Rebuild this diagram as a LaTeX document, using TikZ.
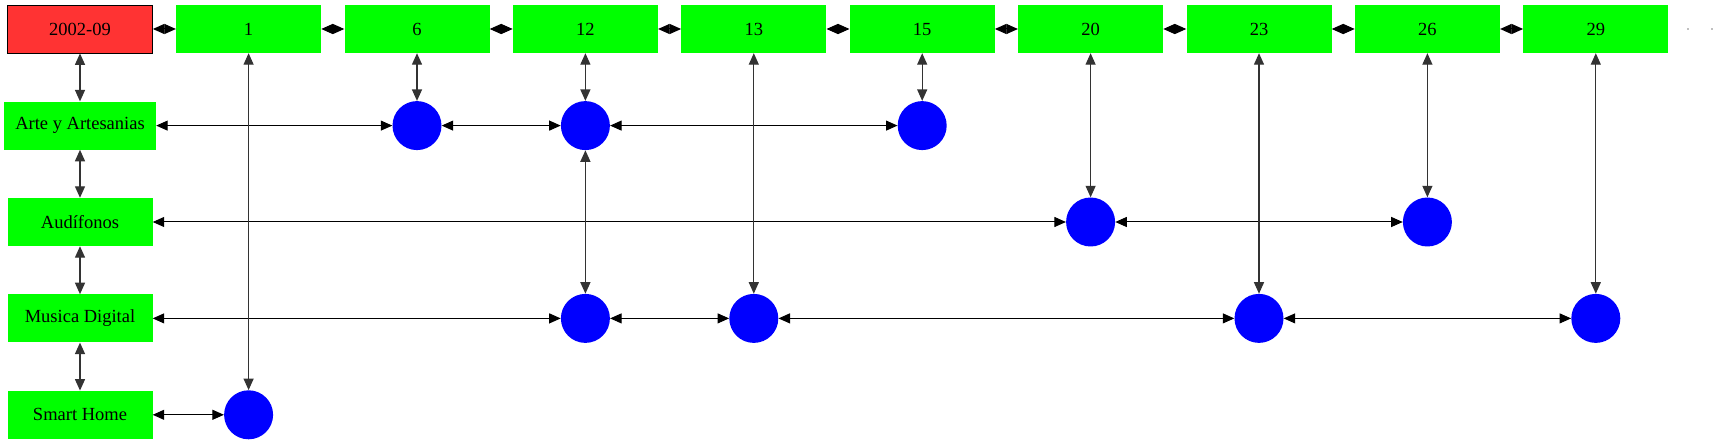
\documentclass[tikz,border=0pt]{standalone}
\usepackage{fontspec}
\setmainfont{Liberation Serif}
\usetikzlibrary{chains,positioning,arrows.meta}

\begin{document}
\begin{tikzpicture}[x=1pt,y=-1pt,
year/.style={fill=green, minimum width=145pt, minimum height=48pt, inner sep=0pt, font=\fontsize{18.5}{20}\selectfont},
datebox/.style={year, fill=red!80, draw=black, line width=0.8pt},
cat/.style={year},
hit/.style={circle, fill=blue, minimum size=49pt, inner sep=0pt},
speck/.style={circle, fill=gray, minimum size=1.8pt, inner sep=0pt},
link/.style={<->, >={Triangle[length=11.5pt,width=10pt]}, line width=1pt},
vlink/.style={link, draw=black!80, line width=1.3pt},
start chain=1, node distance=23pt
]
\useasboundingbox (0,0) rectangle (1717,443);
\node[on chain=1, datebox] (d0) at (80,29) {2002-09};
\node[on chain=1, year, join=by link] (y1) {1};
\node[on chain=1, year, join=by link] (y6) {6};
\node[on chain=1, year, join=by link] (y12) {12};
\node[on chain=1, year, join=by link] (y13) {13};
\node[on chain=1, year, join=by link] (y15) {15};
\node[on chain=1, year, join=by link] (y20) {20};
\node[on chain=1, year, join=by link] (y23) {23};
\node[on chain=1, year, join=by link] (y26) {26};
\node[on chain=1, year, join=by link] (y29) {29};
\node[speck] (e1) at (1688,29) {};
\node[speck] (e2) at (1712,29) {};
\begin{scope}[start chain=2 going below, node distance=48pt]
  \chainin (d0);
  \node[on chain=2, cat, minimum width=152pt, join=by vlink] (arte) {Arte y Artesanias};
  \node[on chain=2, cat, join=by vlink] (audif) {Audífonos};
  \node[on chain=2, cat, join=by vlink] (musica) {Musica Digital};
  \node[on chain=2, cat, join=by vlink] (smart) {Smart Home};
\end{scope}

\node[hit] (a6) at (y6 |- arte) {};
\node[hit] (a12) at (y12 |- arte) {};
\node[hit] (a15) at (y15 |- arte) {};
\node[hit] (h20) at (y20 |- audif) {};
\node[hit] (h26) at (y26 |- audif) {};
\node[hit] (m12) at (y12 |- musica) {};
\node[hit] (m13) at (y13 |- musica) {};
\node[hit] (m23) at (y23 |- musica) {};
\node[hit] (m29) at (y29 |- musica) {};
\node[hit] (s1) at (y1 |- smart) {};

\draw[link] (arte) -- (a6);
\draw[link] (a6) -- (a12);
\draw[link] (a12) -- (a15);
\draw[link] (audif) -- (h20);
\draw[link] (h20) -- (h26);
\draw[link] (musica) -- (m12);
\draw[link] (m12) -- (m13);
\draw[link] (m13) -- (m23);
\draw[link] (m23) -- (m29);
\draw[link] (smart) -- (s1);

\draw[vlink] (y1) -- (s1);
\draw[vlink] (y6) -- (a6);
\draw[vlink] (y12) -- (a12);
\draw[vlink] (a12) -- (m12);
\draw[vlink] (y13) -- (m13);
\draw[vlink] (y15) -- (a15);
\draw[vlink] (y20) -- (h20);
\draw[vlink] (y23) -- (m23);
\draw[vlink] (y26) -- (h26);
\draw[vlink] (y29) -- (m29);
\end{tikzpicture}
\end{document}
